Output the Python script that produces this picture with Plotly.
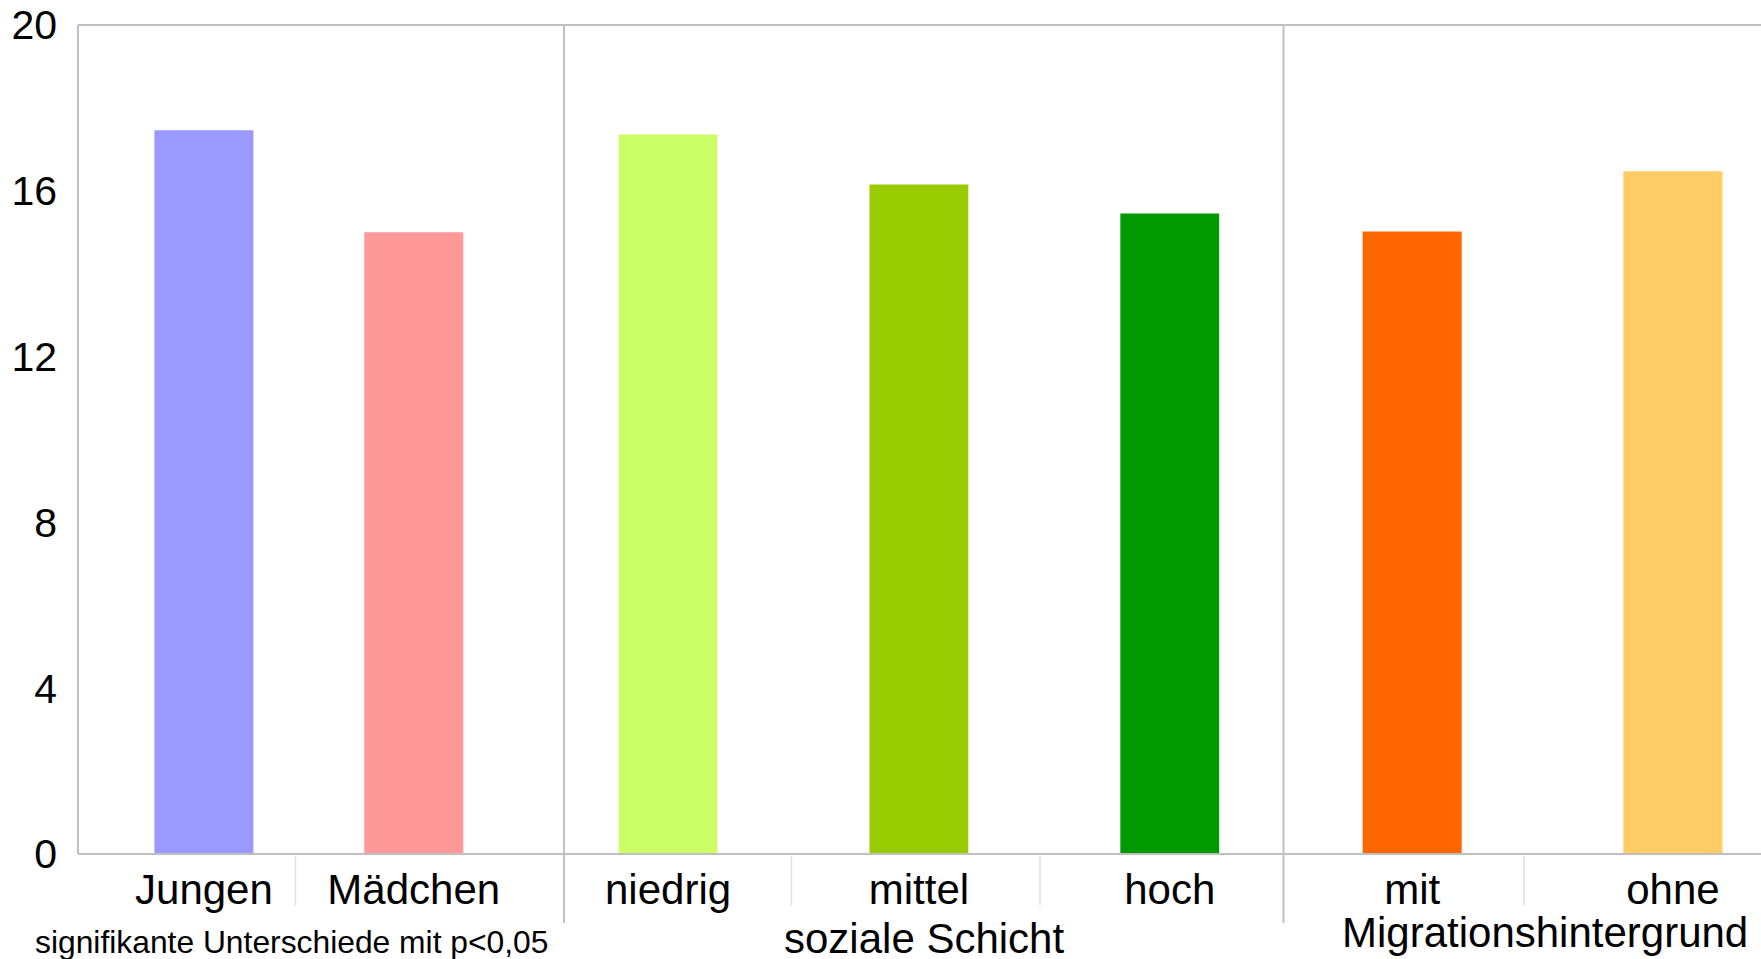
import plotly.graph_objects as go

# Mittelwerte nach Gruppe
gender_labels = ["Jungen", "Mädchen"]
gender_values = [17.46, 15.0]
gender_colors = ["#9999FF", "#FF9999"]

class_labels = ["niedrig", "mittel", "hoch"]
class_values = [17.36, 16.15, 15.45]
class_colors = ["#CCFF66", "#99CC00", "#009900"]

migration_labels = ["mit", "ohne"]
migration_values = [15.02, 16.47]
migration_colors = ["#FF6600", "#FFCC66"]

y_ticks = [0, 4, 8, 12, 16, 20]
footnote = "signifikante Unterschiede mit p<0,05"
class_title = "soziale Schicht"
migration_title = "Migrationshintergrund"

W, H = 1761, 959
ML, MR, MT, MB = 78, 0, 25, 105
PW = W - ML - MR
PH = H - MT - MB
FONT = "Liberation Sans, Arial, sans-serif"
GRID = "#C0C0C0"
SUBGRID = "#DDDDDD"


def px_x(p):
    return (p - ML) / PW


def px_y(p):
    return (H - MB - p) / PH


d1 = px_x(564)
d2 = px_x(1283.5)

fig = go.Figure()
fig.add_trace(go.Bar(x=gender_labels, y=gender_values, marker_color=gender_colors,
                     marker_line_width=0, width=0.472, xaxis="x", yaxis="y",
                     hoverinfo="x+y"))
fig.add_trace(go.Bar(x=class_labels, y=class_values, marker_color=class_colors,
                     marker_line_width=0, width=0.394, xaxis="x2", yaxis="y",
                     hoverinfo="x+y"))
fig.add_trace(go.Bar(x=migration_labels, y=migration_values, marker_color=migration_colors,
                     marker_line_width=0, width=0.38, xaxis="x3", yaxis="y",
                     hoverinfo="x+y"))

xcommon = dict(type="category", showgrid=False, zeroline=False, showline=False,
               ticks="", ticklabelstandoff=7,
               tickfont=dict(family=FONT, size=42, color="black"),
               anchor="y", fixedrange=True)

shapes = []
# Rahmen oben, links, unten
shapes.append(dict(type="line", xref="paper", yref="paper", x0=0, x1=1, y0=1, y1=1,
                   line=dict(color=GRID, width=2)))
shapes.append(dict(type="line", xref="paper", yref="paper", x0=0, x1=0, y0=0, y1=1,
                   line=dict(color=GRID, width=2)))
shapes.append(dict(type="line", xref="paper", yref="paper", x0=0, x1=1, y0=0, y1=0,
                   line=dict(color=GRID, width=2)))
# Trennlinien zwischen den Gruppen
for d in (d1, d2):
    shapes.append(dict(type="line", xref="paper", yref="paper", x0=d, x1=d,
                       y0=px_y(923), y1=1, line=dict(color=GRID, width=2)))
# feine Trennlinien zwischen den Kategorien
for p in (295.5, 791.5, 1040, 1524):
    shapes.append(dict(type="line", xref="paper", yref="paper", x0=px_x(p), x1=px_x(p),
                       y0=px_y(905), y1=px_y(856), line=dict(color=SUBGRID, width=1.5)))

annotations = [
    dict(text=class_title, xref="paper", x=px_x(924), yref="paper", y=px_y(939),
         xanchor="center", yanchor="middle", showarrow=False,
         font=dict(family=FONT, size=42, color="black")),
    dict(text=migration_title, xref="paper", x=px_x(1545), yref="paper", y=px_y(932),
         xanchor="center", yanchor="middle", showarrow=False,
         font=dict(family=FONT, size=42, color="black")),
    dict(text=footnote, xref="paper", x=px_x(33), yref="paper", y=px_y(942),
         xanchor="left", yanchor="middle", showarrow=False,
         font=dict(family=FONT, size=31.8, color="black")),
]

fig.update_layout(
    width=W, height=H,
    margin=dict(l=ML, r=MR, t=MT, b=MB, autoexpand=False),
    paper_bgcolor="white", plot_bgcolor="white",
    showlegend=False,
    xaxis=dict(domain=[0, d1], range=[-0.600, 1.716], **xcommon),
    xaxis2=dict(domain=[d1, d2], range=[-0.4147, 2.4534], **xcommon),
    xaxis3=dict(domain=[d2, 1], range=[-0.4935, 1.338], **xcommon),
    yaxis=dict(range=[0, 20], tickvals=y_ticks, showgrid=False, zeroline=False,
               showline=False, ticks="", anchor="x", fixedrange=True,
               ticklabelstandoff=20,
               tickfont=dict(family=FONT, size=41, color="black")),
    shapes=shapes,
    annotations=annotations,
)

fig.write_html("out.html", config={"displayModeBar": False})
